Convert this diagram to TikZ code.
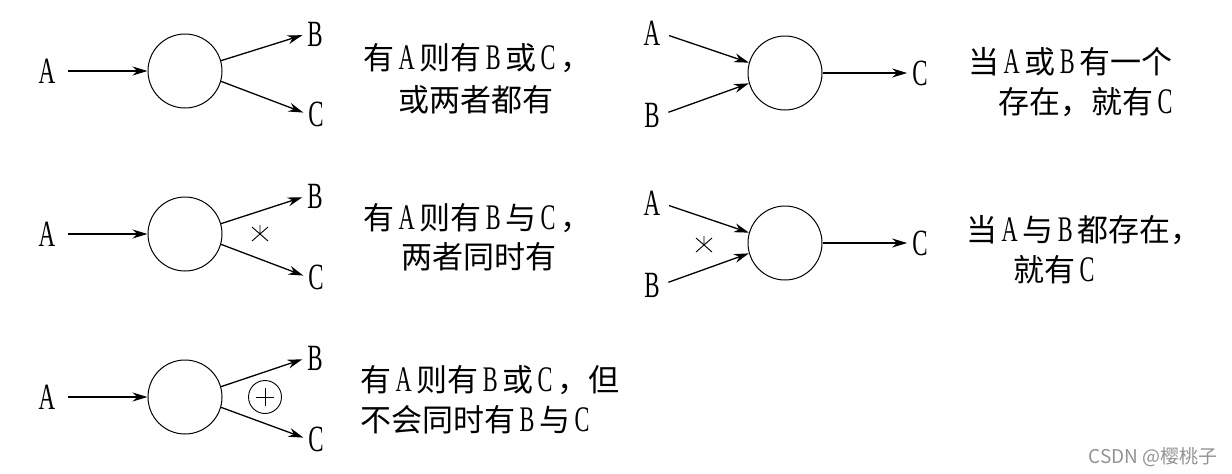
\documentclass[tikz,border=0pt]{standalone}
\usepackage{fontspec}
\usepackage{tikz}
\usetikzlibrary{arrows.meta}
\setmainfont{Liberation Serif}
\newfontfamily\cjkfont{Noto Sans CJK SC}
\newfontfamily\narrowfont[FakeStretch=0.62]{Liberation Serif}
\newcommand{\lab}[1]{{\narrowfont\fontsize{36}{40}\selectfont\kern4.5pt#1\kern4.5pt}}

\begin{document}
\begin{tikzpicture}[x=1pt, y=-1pt,
  proc/.style={draw, circle, minimum size=74pt, inner sep=0pt, line width=1pt},
  letter/.style={inner sep=1pt, font=\narrowfont\fontsize{37}{40}\selectfont},
  note/.style={anchor=west, inner sep=0pt, font=\cjkfont\fontsize{31}{36}\selectfont},
  arr/.style={-{Stealth[length=15pt, width=9pt]}, line width=1.3pt}]
  \useasboundingbox (0,0) rectangle (1232,474);

  % A -> B or C, or both
  \node[letter] (a1) at (47,71) {A};
  \node[proc]   (p1) at (185,71) {};
  \node[letter] (b1) at (315,34) {B};
  \node[letter] (c1) at (316,114) {C};
  \draw[arr, shorten <=12pt] (a1.east) -- (p1.west);
  \draw[arr, shorten >=4pt] (p1.16) -- (b1.west);
  \draw[arr, shorten >=4pt] (p1.-16) -- (c1.west);
  \node[note] (t1a) at (363,58) {有\lab{A}则有\lab{B}或\lab{C}，};
  \node[note] (t1b) at (398,100) {或两者都有};

  % A -> B and C
  \node[letter] (a2) at (47,234) {A};
  \node[proc]   (p2) at (185,234) {};
  \node[letter] (b2) at (315,196) {B};
  \node[letter] (c2) at (316,277) {C};
  \draw[arr, shorten <=12pt] (a2.east) -- (p2.west);
  \draw[arr, shorten >=4pt] (p2.16) -- (b2.west);
  \draw[arr, shorten >=4pt] (p2.-16) -- (c2.west);
  \coordinate (s2) at (260,234);
  \draw[line width=0.9pt] (s2) +(-8,-7) -- +(8,7) (s2) +(-8,7) -- +(8,-7) (s2) -- +(0,-9);
  \node[note] (t2a) at (363,218) {有\lab{A}则有\lab{B}与\lab{C}，};
  \node[note] (t2b) at (401,257) {两者同时有};

  % A -> B or C, not both
  \node[letter] (a3) at (47,397) {A};
  \node[proc]   (p3) at (185,397) {};
  \node[letter] (b3) at (315,358) {B};
  \node[letter] (c3) at (316,439) {C};
  \draw[arr, shorten <=12pt] (a3.east) -- (p3.west);
  \draw[arr, shorten >=4pt] (p3.16) -- (b3.west);
  \draw[arr, shorten >=4pt] (p3.-16) -- (c3.west);
  \node[draw, circle, minimum size=33pt, line width=0.9pt] (x3) at (265,397) {};
  \draw[line width=1pt] ([xshift=-9pt]x3.center) -- ([xshift=9pt]x3.center)
    ([yshift=-9pt]x3.center) -- ([yshift=9pt]x3.center);
  \node[note] (t3a) at (360,380) {有\lab{A}则有\lab{B}或\lab{C}，但};
  \node[note] (t3b) at (360,420) {不会同时有\lab{B}与\lab{C}};

  % A or B -> C
  \node[letter] (a4) at (652,33) {A};
  \node[letter] (b4) at (652,115) {B};
  \node[proc]   (p4) at (785,73) {};
  \node[letter] (c4) at (920,73) {C};
  \draw[arr, shorten <=8pt] (a4.east) -- (p4.164);
  \draw[arr, shorten <=8pt] (b4.east) -- (p4.196);
  \draw[arr, shorten >=4pt] (p4.east) -- (c4.west);
  \node[note] (t4a) at (968,62) {当\lab{A}或\lab{B}有一个};
  \node[note] (t4b) at (998,102) {存在，就有\lab{C}};

  % A and B -> C
  \node[letter] (a5) at (652,203) {A};
  \node[letter] (b5) at (652,285) {B};
  \node[proc]   (p5) at (785,243) {};
  \node[letter] (c5) at (920,243) {C};
  \draw[arr, shorten <=8pt] (a5.east) -- (p5.164);
  \draw[arr, shorten <=8pt] (b5.east) -- (p5.196);
  \draw[arr, shorten >=4pt] (p5.east) -- (c5.west);
  \coordinate (s5) at (704,245);
  \draw[line width=0.9pt] (s5) +(-8,-7) -- +(8,7) (s5) +(-8,7) -- +(8,-7) (s5) -- +(0,-9);
  \node[note] (t5a) at (966,230) {当\lab{A}与\lab{B}都存在，};
  \node[note] (t5b) at (1013,270) {就有\lab{C}};

  \node[text=gray!85, font=\cjkfont\fontsize{19}{22}\selectfont] (mark) at (1153,457) {CSDN @樱桃子};
\end{tikzpicture}
\end{document}
